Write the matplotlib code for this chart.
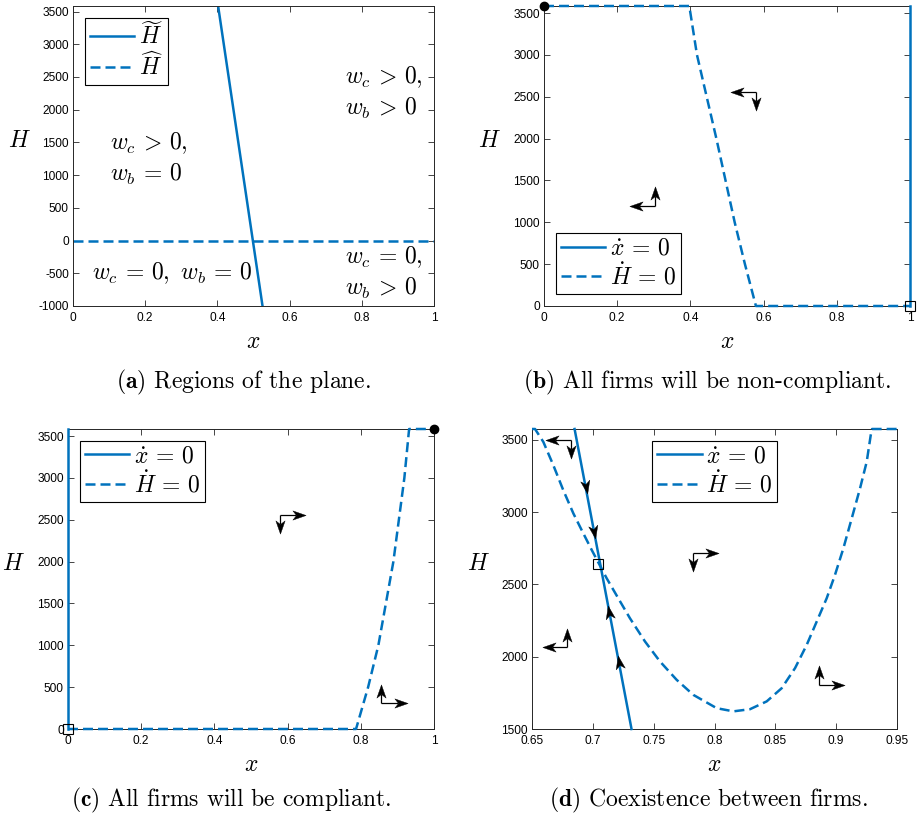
import numpy as np
import matplotlib
matplotlib.use('Agg')
import matplotlib.pyplot as plt
from matplotlib.path import Path
from matplotlib.markers import MarkerStyle
from matplotlib.transforms import Affine2D

plt.rcParams['mathtext.fontset'] = 'cm'
plt.rcParams['font.family'] = ['Liberation Sans', 'DejaVu Sans']
plt.rcParams['axes.unicode_minus'] = False

BLUE = '#0072BD'
AXC = '#262626'
H_TOP = 3585
H_TOP_D = 3575

# ---------------- panel (a) ----------------
a_tilde_x = [0.402, 0.525]
a_tilde_H = [H_TOP, -1000]
a_hat_x = [0.0, 1.0]
a_hat_H = [0, 0]
a_xticks = [0, 0.2, 0.4, 0.6, 0.8, 1]
a_xticklabels = ['0', '0.2', '0.4', '0.6', '0.8', '1']
a_yticks = [-1000, -500, 0, 500, 1000, 1500, 2000, 2500, 3000, 3500]
a_yticklabels = ['-1000', '-500', '0', '500', '1000', '1500', '2000', '2500', '3000', '3500']
a_region_texts = [
    (0.753, 0.763, r'$w_c\, >\, 0,$'), (0.753, 0.657, r'$w_b\, >\, 0$'),
    (0.102, 0.543, r'$w_c\, >\, 0,$'), (0.102, 0.437, r'$w_b\, =\, 0$'),
    (0.053, 0.110, r'$w_c\, =\, 0,\ w_b\, =\, 0$'),
    (0.753, 0.163, r'$w_c\, =\, 0,$'), (0.753, 0.060, r'$w_b\, >\, 0$'),
]

# ---------------- panel (b) ----------------
b_xdot_x = [1.0, 1.0]
b_xdot_H = [0, H_TOP]
b_Hdot_x = [0.0, 0.397, 0.418, 0.471, 0.521, 0.549, 0.579, 1.0]
b_Hdot_H = [H_TOP, H_TOP, 3000, 2000, 1000, 500, 0, 0]
b_dot = (0.0, H_TOP)
b_square = (1.0, 0)
b_arrows = [(0.579, 2555, 0.51, 2332), (0.304, 1200, 0.234, 1427)]

# ---------------- panel (c) ----------------
c_xdot_x = [0.0, 0.0]
c_xdot_H = [0, H_TOP]
c_Hdot_x = [0.0, 0.787, 0.820, 0.848, 0.889, 0.919, 0.932, 1.0]
c_Hdot_H = [0, 0, 500, 1000, 2000, 3000, H_TOP, H_TOP]
c_dot = (1.0, H_TOP)
c_square = (0.0, 0)
c_arrows = [(0.579, 2557, 0.65, 2331), (0.855, 306, 0.927, 537)]

bc_yticks = [0, 500, 1000, 1500, 2000, 2500, 3000, 3500]
bc_yticklabels = ['0', '500', '1000', '1500', '2000', '2500', '3000', '3500']

# ---------------- panel (d) ----------------
d_xdot_x = [0.685, 0.7318]
d_xdot_H = [H_TOP_D, 1500]
d_Hdot_x = [0.650, 0.6525, 0.6593, 0.6675, 0.6757, 0.6840, 0.6908, 0.6991,
            0.7114, 0.7209, 0.7305, 0.7429, 0.7552, 0.7689, 0.7826, 0.8018,
            0.8155, 0.8292, 0.8429, 0.8552, 0.8662, 0.8758, 0.8840, 0.8922,
            0.8990, 0.9059, 0.9128, 0.9196, 0.9251, 0.9284, 0.9295, 0.950]
d_Hdot_H = [H_TOP_D, H_TOP_D, 3486, 3325, 3152, 2991, 2876, 2738,
            2542, 2404, 2266, 2105, 1967, 1840, 1736, 1644,
            1622, 1637, 1691, 1782, 1921, 2082, 2243, 2404,
            2565, 2749, 2957, 3164, 3348, 3532, H_TOP_D, H_TOP_D]
d_square = (0.7045, 2641)
d_arrows = [(0.6818, 3502, 0.661, 3369), (0.679, 2068, 0.6582, 2194),
            (0.7826, 2717, 0.8037, 2586), (0.886, 1803, 0.9073, 1941)]
d_line_arrow_tips = [3129, 2816, 2356, 2010]
d_line_arrow_dirs = [-1, -1, 1, 1]
d_xticks = [0.65, 0.7, 0.75, 0.8, 0.85, 0.9, 0.95]
d_xticklabels = ['0.65', '0.7', '0.75', '0.8', '0.85', '0.9', '0.95']
d_yticks = [1500, 2000, 2500, 3000, 3500]
d_yticklabels = ['1500', '2000', '2500', '3000', '3500']

dot_labels = [r'$\dot{x}\, =\, 0$', r'$\dot{H}\, =\, 0$']
hat_labels = [r'$\widetilde{H}$', r'$\widehat{H}$']

captions = [r'$\mathbf{(a)}$ Regions of the plane.',
            r'$\mathbf{(b)}$ All firms will be non-compliant.',
            r'$\mathbf{(c)}$ All firms will be compliant.',
            r'$\mathbf{(d)}$ Coexistence between firms.']

W, Hh = 917, 822
fig = plt.figure(figsize=(W / 100, Hh / 100), dpi=100)


def ax_at(l, r, t, b):
    return fig.add_axes([l / W, 1 - b / Hh, (r - l) / W, (b - t) / Hh])


axa = ax_at(73, 434, 6, 306)
axb = ax_at(544, 910, 6, 306)
axc = ax_at(68, 434, 429, 729)
axd = ax_at(532, 897, 429, 729)

LW = 1.8
DASH = (4.0, 2.0)
HEAD_PT = 9.5
STEALTH = Path([(1, 0), (-1, 0.7), (-0.45, 0), (-1, -0.7), (1, 0)],
               [Path.MOVETO, Path.LINETO, Path.LINETO, Path.LINETO, Path.CLOSEPOLY])


def style(ax, xlim, ylim, xt, xtl, yt, ytl):
    ax.set_xlim(*xlim)
    ax.set_ylim(*ylim)
    ax.set_xticks(xt)
    ax.set_xticklabels(xtl)
    ax.set_yticks(yt)
    ax.set_yticklabels(ytl)
    ax.tick_params(direction='in', top=True, right=True, length=4, width=0.6,
                   labelsize=8.6, colors=AXC, labelcolor='k')
    ax.tick_params(axis='x', pad=4)
    ax.tick_params(axis='y', pad=3)
    for s in ax.spines.values():
        s.set_color(AXC)
        s.set_linewidth(0.7)
    ax.set_xlabel('$x$', fontsize=17)
    ax.set_ylabel('$H$', fontsize=17, rotation=0)
    ax.xaxis.label.set_va('center')
    ax.yaxis.label.set_va('center')
    ax.yaxis.label.set_ha('center')
    ax.xaxis.set_label_coords(0.5, -0.12)
    ax.yaxis.set_label_coords(-0.148, 0.55)


def legend(ax, loc, labels):
    lg = ax.legend(labels=labels, loc=loc, fontsize=17, frameon=True, fancybox=False,
                   edgecolor='k', framealpha=1, handlelength=1.9, handletextpad=0.2,
                   borderpad=0.2, labelspacing=0.12, borderaxespad=0.5)
    lg.get_frame().set_linewidth(0.8)
    return lg


def head(ax, tail, tip, stem=True):
    t0 = ax.transData.transform(tail)
    t1 = ax.transData.transform(tip)
    d = t1 - t0
    u = d / np.hypot(*d)
    ang = np.degrees(np.arctan2(d[1], d[0]))
    hp = HEAD_PT * fig.dpi / 72
    inv = ax.transData.inverted()
    c = inv.transform(t1 - u * hp / 2)
    n = inv.transform(t1 - u * hp * 0.725)
    if stem:
        ax.plot([tail[0], n[0]], [tail[1], n[1]], color='k', lw=0.9,
                solid_capstyle='butt', zorder=6)
    m = MarkerStyle(STEALTH, transform=Affine2D().rotate_deg(ang))
    ax.plot([c[0]], [c[1]], marker=m, ms=HEAD_PT, color='k', mec='k', mew=0.3,
            ls='none', zorder=6)


def l_arrows(ax, arrows):
    for cx, cy, hx, vy in arrows:
        head(ax, (cx, cy), (hx, cy))
        head(ax, (cx, cy), (cx, vy))


# (a)
style(axa, (0, 1), (-1000, H_TOP), a_xticks, a_xticklabels, a_yticks, a_yticklabels)
axa.plot(a_tilde_x, a_tilde_H, color=BLUE, lw=LW)
axa.plot(a_hat_x, a_hat_H, color=BLUE, lw=LW, ls='--', dashes=DASH)
legend(axa, 'upper left', hat_labels)
for tx, ty, s in a_region_texts:
    axa.text(tx, ty, s, transform=axa.transAxes, fontsize=17, ha='left', va='center')

# (b)
style(axb, (0, 1), (0, H_TOP), a_xticks, a_xticklabels, bc_yticks, bc_yticklabels)
axb.plot(b_xdot_x, b_xdot_H, color=BLUE, lw=LW, clip_on=False, zorder=3)
axb.plot(b_Hdot_x, b_Hdot_H, color=BLUE, lw=LW, ls='--', dashes=DASH, clip_on=False, zorder=3)
axb.plot(*b_dot, 'o', color='k', ms=6, clip_on=False, zorder=5)
axb.plot(*b_square, 's', mfc='none', mec='k', mew=0.8, ms=7, clip_on=False, zorder=5)
l_arrows(axb, b_arrows)
legend(axb, 'lower left', dot_labels)

# (c)
style(axc, (0, 1), (0, H_TOP), a_xticks, a_xticklabels, bc_yticks, bc_yticklabels)
axc.plot(c_xdot_x, c_xdot_H, color=BLUE, lw=LW, clip_on=False, zorder=3)
axc.plot(c_Hdot_x, c_Hdot_H, color=BLUE, lw=LW, ls='--', dashes=DASH, clip_on=False, zorder=3)
axc.plot(*c_dot, 'o', color='k', ms=6, clip_on=False, zorder=5)
axc.plot(*c_square, 's', mfc='none', mec='k', mew=0.8, ms=7, clip_on=False, zorder=5)
l_arrows(axc, c_arrows)
legend(axc, 'upper left', dot_labels)

# (d)
style(axd, (0.65, 0.95), (1500, H_TOP_D), d_xticks, d_xticklabels, d_yticks, d_yticklabels)
axd.plot(d_xdot_x, d_xdot_H, color=BLUE, lw=LW, clip_on=False, zorder=3)
axd.plot(d_Hdot_x, d_Hdot_H, color=BLUE, lw=LW, ls='--', dashes=DASH, clip_on=False, zorder=3)
axd.plot(*d_square, 's', mfc='none', mec='k', mew=0.8, ms=7, zorder=5)
l_arrows(axd, d_arrows)
for tip, dr in zip(d_line_arrow_tips, d_line_arrow_dirs):
    tail = tip - dr * 100
    xs = np.interp([tip, tail], d_xdot_H[::-1], d_xdot_x[::-1])
    head(axd, (xs[1], tail), (xs[0], tip), stem=False)
legend(axd, 'upper center', dot_labels)

# captions
cap_pos = [(244, 382), (707, 382), (231, 800), (708, 800)]
for (px, py), s in zip(cap_pos, captions):
    fig.text(px / W, 1 - py / Hh, s, fontsize=17, family='cmr10', ha='center', va='center')

fig.savefig('out.png', dpi=100)
